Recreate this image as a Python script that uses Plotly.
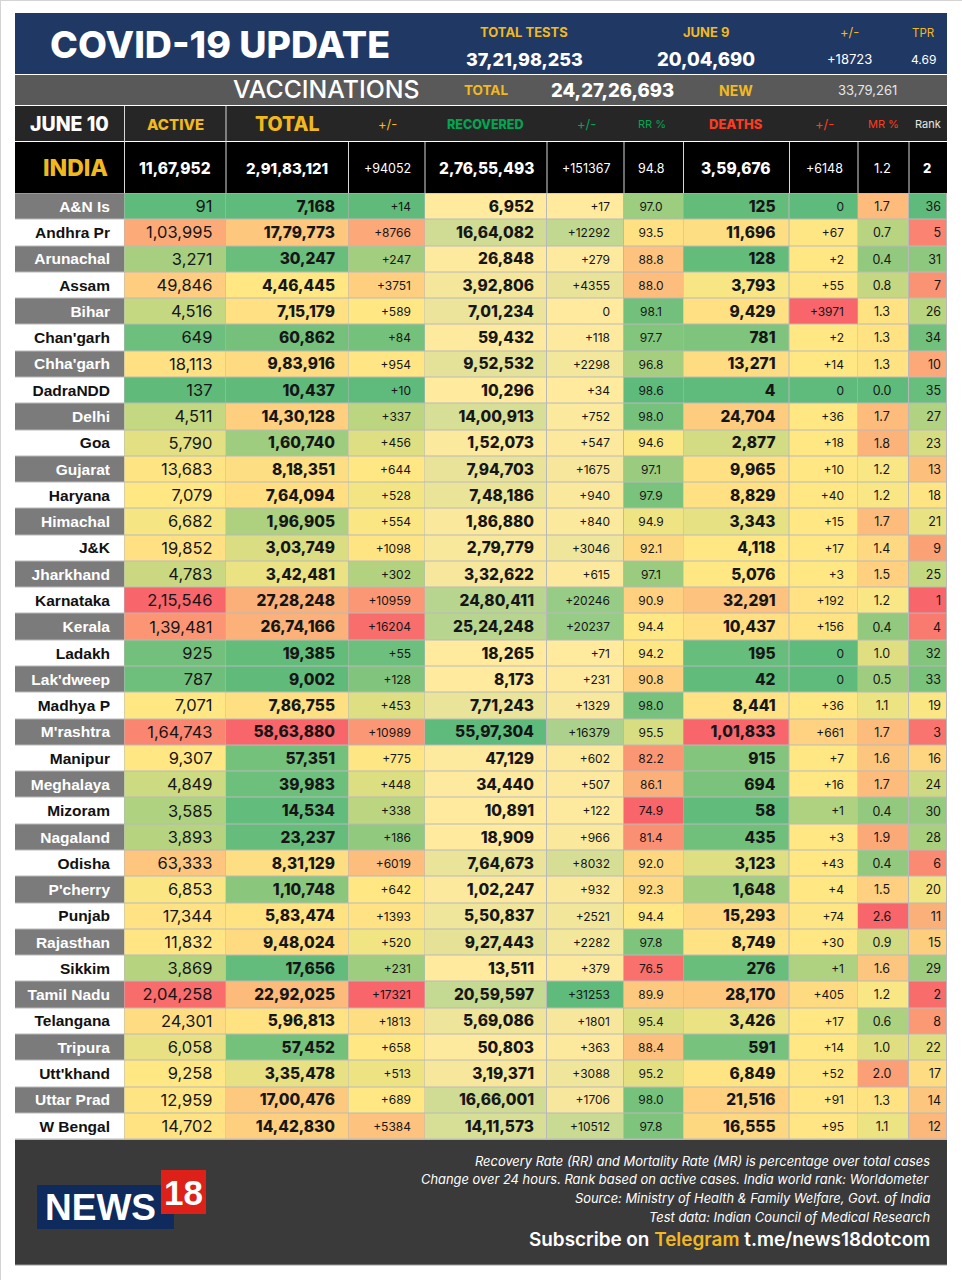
#imports
import numpy as np
import pandas as pd
import plotly.graph_objects as go

#state data from the june 10 bulletin
states = pd.DataFrame({
    "State": ["A&N Is", "Andhra Pr", "Arunachal", "Assam", "Bihar", "Chan'garh", "Chha'garh", "DadraNDD", "Delhi",
              "Goa", "Gujarat", "Haryana", "Himachal", "J&K", "Jharkhand", "Karnataka", "Kerala", "Ladakh",
              "Lak'dweep", "Madhya P", "M'rashtra", "Manipur", "Meghalaya", "Mizoram", "Nagaland", "Odisha",
              "P'cherry", "Punjab", "Rajasthan", "Sikkim", "Tamil Nadu", "Telangana", "Tripura", "Utt'khand",
              "Uttar Prad", "W Bengal"],
    "Active": ["91", "1,03,995", "3,271", "49,846", "4,516", "649", "18,113", "137", "4,511", "5,790", "13,683",
               "7,079", "6,682", "19,852", "4,783", "2,15,546", "1,39,481", "925", "787", "7,071", "1,64,743",
               "9,307", "4,849", "3,585", "3,893", "63,333", "6,853", "17,344", "11,832", "3,869", "2,04,258",
               "24,301", "6,058", "9,258", "12,959", "14,702"],
    "Total": ["7,168", "17,79,773", "30,247", "4,46,445", "7,15,179", "60,862", "9,83,916", "10,437", "14,30,128",
              "1,60,740", "8,18,351", "7,64,094", "1,96,905", "3,03,749", "3,42,481", "27,28,248", "26,74,166",
              "19,385", "9,002", "7,86,755", "58,63,880", "57,351", "39,983", "14,534", "23,237", "8,31,129",
              "1,10,748", "5,83,474", "9,48,024", "17,656", "22,92,025", "5,96,813", "57,452", "3,35,478",
              "17,00,476", "14,42,830"],
    "Total +/-": ["+14", "+8766", "+247", "+3751", "+589", "+84", "+954", "+10", "+337", "+456", "+644", "+528",
                  "+554", "+1098", "+302", "+10959", "+16204", "+55", "+128", "+453", "+10989", "+775", "+448",
                  "+338", "+186", "+6019", "+642", "+1393", "+520", "+231", "+17321", "+1813", "+658", "+513",
                  "+689", "+5384"],
    "Recovered": ["6,952", "16,64,082", "26,848", "3,92,806", "7,01,234", "59,432", "9,52,532", "10,296",
                  "14,00,913", "1,52,073", "7,94,703", "7,48,186", "1,86,880", "2,79,779", "3,32,622", "24,80,411",
                  "25,24,248", "18,265", "8,173", "7,71,243", "55,97,304", "47,129", "34,440", "10,891", "18,909",
                  "7,64,673", "1,02,247", "5,50,837", "9,27,443", "13,511", "20,59,597", "5,69,086", "50,803",
                  "3,19,371", "16,66,001", "14,11,573"],
    "Recovered +/-": ["+17", "+12292", "+279", "+4355", "0", "+118", "+2298", "+34", "+752", "+547", "+1675", "+940",
                      "+840", "+3046", "+615", "+20246", "+20237", "+71", "+231", "+1329", "+16379", "+602", "+507",
                      "+122", "+966", "+8032", "+932", "+2521", "+2282", "+379", "+31253", "+1801", "+363", "+3088",
                      "+1706", "+10512"],
    "RR": ["97.0", "93.5", "88.8", "88.0", "98.1", "97.7", "96.8", "98.6", "98.0", "94.6", "97.1", "97.9", "94.9",
           "92.1", "97.1", "90.9", "94.4", "94.2", "90.8", "98.0", "95.5", "82.2", "86.1", "74.9", "81.4", "92.0",
           "92.3", "94.4", "97.8", "76.5", "89.9", "95.4", "88.4", "95.2", "98.0", "97.8"],
    "Deaths": ["125", "11,696", "128", "3,793", "9,429", "781", "13,271", "4", "24,704", "2,877", "9,965", "8,829",
               "3,343", "4,118", "5,076", "32,291", "10,437", "195", "42", "8,441", "1,01,833", "915", "694", "58",
               "435", "3,123", "1,648", "15,293", "8,749", "276", "28,170", "3,426", "591", "6,849", "21,516",
               "16,555"],
    "Deaths +/-": ["0", "+67", "+2", "+55", "+3971", "+2", "+14", "0", "+36", "+18", "+10", "+40", "+15", "+17", "+3",
                   "+192", "+156", "0", "0", "+36", "+661", "+7", "+16", "+1", "+3", "+43", "+4", "+74", "+30", "+1",
                   "+405", "+17", "+14", "+52", "+91", "+95"],
    "MR": ["1.7", "0.7", "0.4", "0.8", "1.3", "1.3", "1.3", "0.0", "1.7", "1.8", "1.2", "1.2", "1.7", "1.4", "1.5",
           "1.2", "0.4", "1.0", "0.5", "1.1", "1.7", "1.6", "1.7", "0.4", "1.9", "0.4", "1.5", "2.6", "0.9", "1.6",
           "1.2", "0.6", "1.0", "2.0", "1.3", "1.1"],
    "Rank": ["36", "5", "31", "7", "26", "34", "10", "35", "27", "23", "13", "18", "21", "9", "25", "1", "4", "32",
             "33", "19", "3", "16", "24", "30", "28", "6", "20", "11", "15", "29", "2", "8", "22", "17", "14", "12"],
})

#colours of the sheet
GREEN = "#5fbb7b"
YELLOW = "#ffe884"
PALE = "#ffea9e"
RED = "#f8656b"
GOLD = "#f2b91e"
LEAF = "#00a651"
FIRE = "#ff3b1f"

#fonts
BOLD = "Inter"
PLAIN = "Inter"

#row edges, the sheet is laid out in page pixels
row_edges = [193.5 + 26.28 * i for i in range(37)]
row_mids = [194.8 + 26.28 * (i + 0.5) for i in range(36)]

#name, left, right, where the text sits, anchor, font, size, weight, colour rule
columns = [
    ("Active", 124.5, 226, 212.5, "middle left", PLAIN, 16.5, 400, "low_good"),
    ("Total", 226, 348.5, 335, "middle left", BOLD, 15.5, 800, "low_good"),
    ("Total +/-", 348.5, 425, 411, "middle left", PLAIN, 12, 400, "low_good"),
    ("Recovered", 425, 547, 534, "middle left", BOLD, 15.5, 800, "two_tone"),
    ("Recovered +/-", 547, 624, 610, "middle left", PLAIN, 12, 400, "two_tone"),
    ("RR", 624, 683.5, 651, "middle center", PLAIN, 12, 400, "high_good"),
    ("Deaths", 683.5, 789.5, 775.5, "middle left", BOLD, 15.5, 800, "low_good"),
    ("Deaths +/-", 789.5, 858, 844, "middle left", PLAIN, 12, 400, "low_good"),
    ("MR", 858, 909, 882, "middle center", PLAIN, 12.5, 400, "low_good"),
    ("Rank", 909, 947, 941, "middle left", PLAIN, 12.5, 400, "high_good"),
]

fig = go.Figure()

#grey column with the state names
fig.add_trace(go.Heatmap(x=[15, 124.5], y=row_edges, z=[[i % 2] for i in range(36)],
                         colorscale=[[0, "#7b7b7b"], [1, "#ffffff"]], zmin=0, zmax=1,
                         xgap=1, ygap=1, showscale=False, hoverinfo="skip"))
fig.add_trace(go.Scatter(x=[110] * 36, y=row_mids, text=states["State"], mode="text", textposition="middle left",
                         textfont=dict(family="Liberation Sans", size=15.5, weight=700,
                                       color=["#ffffff" if i % 2 == 0 else "#111111" for i in range(36)]),
                         hoverinfo="skip"))

#one heatmap per column since every column has its own scale
for name, left, right, text_x, anchor, font, size, weight, rule in columns:
    values = [float(v.replace(",", "")) for v in states[name]]
    low, high = min(values), max(values)
    middle = np.median(values)
    if name == "Deaths +/-":
        middle = 2  #only the zeros are green in this one
    spot = (middle - low) / (high - low)
    if rule == "low_good":
        scale = [[0, GREEN], [spot, YELLOW], [1, RED]]
    elif rule == "high_good":
        scale = [[0, RED], [spot, YELLOW], [1, GREEN]]
    else:
        scale = [[0, PALE], [1, GREEN]]
    fig.add_trace(go.Heatmap(x=[left, right], y=row_edges, z=[[v] for v in values],
                             colorscale=scale, zmin=low, zmax=high,
                             xgap=1, ygap=1, showscale=False, hoverinfo="skip"))
    fig.add_trace(go.Scatter(x=[text_x] * 36, y=row_mids, text=states[name], mode="text", textposition=anchor,
                             textfont=dict(family=font, size=size, weight=weight, color="#161616"),
                             hoverinfo="skip"))

#bands on top and bottom
bands = [(15, 947, 13, 74, "#1f3864"), (15, 947, 75, 105, "#595959"), (15, 947, 106, 141, "#262626"),
         (15, 947, 142, 193, "#000000"), (15, 947, 193, 1140, "#b9b9b9"), (15, 947, 1140, 1265, "#3a3a3a"),
         (37, 174, 1185, 1229, "#0f2a5c"), (161, 206, 1170, 1214, "#dd2018")]
for x0, x1, y0, y1, colour in bands:
    fig.add_shape(type="rect", x0=x0, x1=x1, y0=y0, y1=y1, fillcolor=colour, line_width=0, layer="below")

#thin page edge
fig.add_shape(type="line", x0=0.5, x1=0.5, y0=0, y1=1280, line=dict(color="#d4d4d4", width=1))
fig.add_shape(type="line", x0=0, x1=962, y0=0.5, y1=0.5, line=dict(color="#d4d4d4", width=1))
fig.add_shape(type="line", x0=15, x1=947, y0=1265, y1=1265, line=dict(color="#9a9a9a", width=1))

#white dividers in header and india rows
for x in [124.5, 226]:
    fig.add_shape(type="line", x0=x, x1=x, y0=106, y1=193, line=dict(color="#d8d8d8", width=1))
for x in [348.5, 425, 547, 624, 683.5, 789.5, 858, 909]:
    fig.add_shape(type="line", x0=x, x1=x, y0=142, y1=193, line=dict(color="#d8d8d8", width=1))

#all the other text: x, y, text, font, size, weight, colour
labels = [
    (219.5, 44, "COVID-19 UPDATE", BOLD, 37.5, 800, "#ffffff"),
    (524, 32, "TOTAL TESTS", BOLD, 13, 700, GOLD),
    (524, 59, "37,21,98,253", BOLD, 18, 800, "#ffffff"),
    (706, 32, "JUNE 9", BOLD, 13, 700, GOLD),
    (706, 59, "20,04,690", BOLD, 18.5, 800, "#ffffff"),
    (849, 32, "+/-", PLAIN, 13, 400, GOLD),
    (849, 59, "+18723", PLAIN, 13, 400, "#ffffff"),
    (923, 33, "TPR", PLAIN, 11.5, 400, GOLD),
    (923, 59, "4.69", PLAIN, 12, 400, "#ffffff"),
    (326, 89, "VACCINATIONS", PLAIN, 24.8, 500, "#ffffff"),
    (486, 90, "TOTAL", BOLD, 13.5, 700, GOLD),
    (612, 90, "24,27,26,693", BOLD, 18.5, 800, "#ffffff"),
    (736, 90, "NEW", BOLD, 14, 700, GOLD),
    (867, 90, "33,79,261", PLAIN, 13, 400, "#e6e6e6"),
    (69, 124, "JUNE 10", BOLD, 19.5, 800, "#ffffff"),
    (175, 124, "ACTIVE", BOLD, 15, 800, GOLD),
    (287, 124, "TOTAL", BOLD, 19.5, 800, GOLD),
    (387, 124, "+/-", PLAIN, 13, 400, GOLD),
    (485, 124, "RECOVERED", BOLD, 12.5, 800, LEAF),
    (586, 124, "+/-", PLAIN, 13, 400, LEAF),
    (652, 124, "RR %", PLAIN, 11, 400, LEAF),
    (736, 124, "DEATHS", BOLD, 13, 800, FIRE),
    (824, 124, "+/-", PLAIN, 13, 400, FIRE),
    (883, 124, "MR %", PLAIN, 11, 400, FIRE),
    (928, 124, "Rank", PLAIN, 11, 400, "#e6e6e6"),
    (75, 168, "INDIA", BOLD, 23, 800, GOLD),
    (175, 168, "11,67,952", BOLD, 15.5, 800, "#ffffff"),
    (287, 168, "2,91,83,121", BOLD, 15, 800, "#ffffff"),
    (387, 168, "+94052", PLAIN, 12.5, 400, "#ffffff"),
    (486, 168, "2,76,55,493", BOLD, 15.5, 800, "#ffffff"),
    (586, 168, "+151367", PLAIN, 12.5, 400, "#ffffff"),
    (651, 168, "94.8", PLAIN, 12.5, 400, "#ffffff"),
    (736, 168, "3,59,676", BOLD, 15.5, 800, "#ffffff"),
    (824, 168, "+6148", PLAIN, 12.5, 400, "#ffffff"),
    (882, 168, "1.2", PLAIN, 13, 400, "#ffffff"),
    (927, 168, "2", BOLD, 13, 800, "#ffffff"),
    (100, 1207, "NEWS", "Liberation Sans", 37, 700, "#ffffff"),
    (183.5, 1192, "18", "Liberation Sans", 35, 700, "#ffffff"),
]
for x, y, text, font, size, weight, colour in labels:
    fig.add_annotation(x=x, y=y, text=text, showarrow=False, xanchor="center", yanchor="middle",
                       font=dict(family=font, size=size, weight=weight, color=colour))

#footer notes are right aligned
notes = [
    (1161, "<i>Recovery Rate (RR) and Mortality Rate (MR) is percentage over total cases</i>", 12.9, 400),
    (1179.5, "<i>Change over 24 hours. Rank based on active cases. India world rank: Worldometer</i>", 12.9, 400),
    (1198, "<i>Source: Ministry of Health &amp; Family Welfare, Govt. of India</i>", 12.9, 400),
    (1217, "<i>Test data: Indian Council of Medical Research</i>", 12.9, 400),
    (1239, "Subscribe on <span style='color:#f2b91e'>Telegram</span> t.me/news18dotcom", 18.9, 600),
]
for y, text, size, weight in notes:
    fig.add_annotation(x=932, y=y, text=text, showarrow=False, xanchor="right", yanchor="middle",
                       font=dict(family=PLAIN, size=size, weight=weight, color="#ffffff"))

#page set up
fig.update_layout(width=962, height=1280, margin=dict(l=0, r=0, t=0, b=0), showlegend=False,
                  paper_bgcolor="#ffffff", plot_bgcolor="#ffffff")
fig.update_xaxes(range=[0, 962], visible=False, type="linear")
fig.update_yaxes(range=[1280, 0], visible=False, type="linear")

fig.write_html("out.html", config={"displayModeBar": False}, post_script="document.body.style.margin='0'")
